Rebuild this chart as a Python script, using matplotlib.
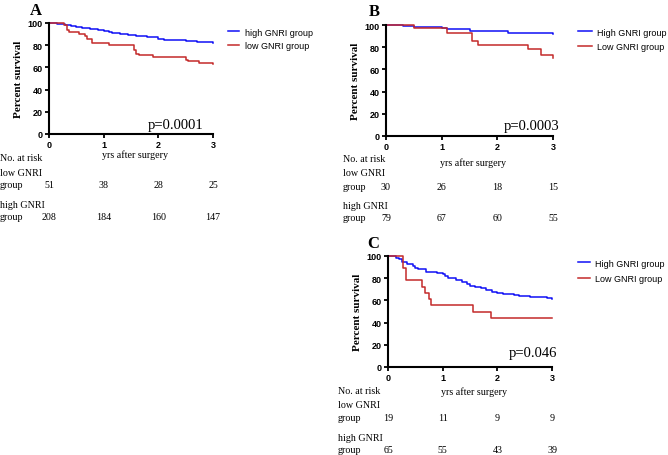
import matplotlib
matplotlib.use('Agg')
import matplotlib.pyplot as plt

W, H = 668, 456

# ---- Panel A
a_high_t = [0, 0.15, 0.25, 0.3, 0.4, 0.5, 0.6, 0.75, 0.9, 1.0, 1.1, 1.15, 1.3, 1.45, 1.6, 1.8, 2.0, 2.1, 2.3, 2.5, 2.7, 2.9, 3.0]
a_high_s = [100, 99.5, 99, 98, 97, 96, 95.5, 95, 94, 93, 92, 91, 90, 89, 88, 87, 86, 85, 84.5, 84, 83, 82.5, 82]
a_low_t = [0, 0.27, 0.33, 0.36, 0.55, 0.65, 0.7, 0.78, 1.1, 1.55, 1.6, 1.65, 1.9, 2.5, 2.55, 2.75, 3.0]
a_low_s = [100, 98, 94, 92, 90, 88, 86, 82, 80, 76, 72, 71, 69, 67, 66, 64, 63]
a_risk_low = [51, 38, 28, 25]
a_risk_high = [208, 184, 160, 147]

# ---- Panel B
b_high_t = [0, 0.3, 0.35, 0.5, 1.0, 1.1, 1.5, 2.0, 2.2, 2.4, 3.0]
b_high_s = [100, 99.5, 99, 98, 97, 96, 95, 94.5, 93, 92.5, 92]
b_low_t = [0, 0.5, 1.1, 1.55, 1.65, 2.55, 2.78, 3.0]
b_low_s = [100, 97, 93, 86, 82, 78, 73, 70]
b_risk_low = [30, 26, 18, 15]
b_risk_high = [79, 67, 60, 55]

# ---- Panel C
c_high_t = [0, 0.15, 0.2, 0.25, 0.35, 0.45, 0.5, 0.55, 0.7, 0.75, 0.9, 1.0, 1.05, 1.1, 1.25, 1.35, 1.45, 1.5, 1.6, 1.7, 1.8, 1.9, 2.0, 2.1, 2.3, 2.4, 2.6, 2.9, 3.0]
c_high_s = [100, 98, 97, 95, 93, 91, 89, 88, 86, 85.5, 85, 84, 82, 80, 78, 77, 75, 73, 72, 71, 69, 68, 67, 66, 65, 64, 63, 62, 61]
c_low_t = [0, 0.27, 0.33, 0.63, 0.67, 0.75, 0.78, 1.55, 1.88, 3.0]
c_low_s = [100, 89, 78, 72, 67, 61, 55.5, 50, 44.5, 44.5]
c_risk_low = [19, 11, 9, 9]
c_risk_high = [65, 55, 43, 39]

BLUE = '#1010F5'
RED = '#C42A2A'
SERIF = 'Liberation Serif'
SANS = 'Liberation Sans'

fig = plt.figure(figsize=(W / 100, H / 100), dpi=100)


def px(x, y):
    return x / W, 1 - y / H


def panel(left, right, top, bottom, letter, letter_xy, high, low, labels, leg, pval, p_xy,
          xlab_y, table_x, table_y0, risk_low, risk_high):
    x0, y0 = px(left, bottom)
    x1, y1 = px(right, top)
    ax = fig.add_axes([x0, y0, x1 - x0, y1 - y0])
    ax.step(high[0], high[1], where='post', color=BLUE, lw=1.1, clip_on=False, label=labels[0])
    ax.step(low[0], low[1], where='post', color=RED, lw=1.1, clip_on=False, label=labels[1])
    ax.set_xlim(0, 3)
    ax.set_ylim(0, 100)
    ax.set_xticks([0, 1, 2, 3])
    ax.set_yticks([0, 20, 40, 60, 80, 100])
    for s in ['top', 'right']:
        ax.spines[s].set_visible(False)
    for s in ['left', 'bottom']:
        ax.spines[s].set_linewidth(1.5)
    ax.tick_params(direction='out', length=3, width=1.3, pad=1.5, labelsize=6.5)
    for t in ax.get_xticklabels() + ax.get_yticklabels():
        t.set_fontfamily(SANS)
        t.set_fontweight('bold')
    ax.set_ylabel('Percent survival', fontfamily=SERIF, fontweight='bold', fontsize=8, labelpad=3)

    lx, ly = px(*leg[0])
    ax.legend(loc='center left', bbox_to_anchor=(lx, ly), bbox_transform=fig.transFigure,
              frameon=False, prop={'family': SANS, 'size': 6.5}, handlelength=leg[1],
              handletextpad=0.6, labelspacing=leg[2], borderaxespad=0, borderpad=0)

    fig.text(*px(*letter_xy), letter, fontfamily=SERIF, fontweight='bold', fontsize=12,
             ha='left', va='center')
    fig.text(*px(*p_xy), pval, fontfamily=SERIF, fontsize=10.5, ha='right', va='center')
    fig.text(*px((left + right) / 2 + 4, xlab_y), 'yrs after surgery', fontfamily=SERIF,
             fontsize=7.2, ha='center', va='center')

    ticks_px = [left + (right - left) * i / 3 for i in range(4)]
    rows = [('No. at risk', 0), ('low GNRI', 14), ('group', 27), ('high GNRI', 47), ('group', 59)]
    for txt, dy in rows:
        fig.text(*px(table_x, table_y0 + dy), txt, fontfamily=SERIF, fontsize=7.2,
                 ha='left', va='center')
    for xp, n1, n2 in zip(ticks_px, risk_low, risk_high):
        fig.text(*px(xp, table_y0 + 27), str(n1), fontfamily=SERIF, fontsize=7.2,
                 ha='center', va='center')
        fig.text(*px(xp, table_y0 + 59), str(n2), fontfamily=SERIF, fontsize=7.2,
                 ha='center', va='center')
    return ax


panel(49, 213, 24, 135, 'A', (30, 11), (a_high_t, a_high_s), (a_low_t, a_low_s),
      ['high GNRI group', 'low GNRI group'], ((228, 40), 1.25, 0.55), 'p=0.0001', (203, 125),
      155, 0, 159, a_risk_low, a_risk_high)
panel(386, 553, 26, 137, 'B', (369, 12), (b_high_t, b_high_s), (b_low_t, b_low_s),
      ['High GNRI group', 'Low GNRI group'], ((578, 40.5), 1.5, 0.65), 'p=0.0003', (559, 127),
      163, 343, 160, b_risk_low, b_risk_high)
panel(388, 552, 257, 368, 'C', (367, 244), (c_high_t, c_high_s), (c_low_t, c_low_s),
      ['High GNRI group', 'Low GNRI group'], ((578, 272), 1.3, 0.75), 'p=0.046', (557, 353),
      392, 338, 392, c_risk_low, c_risk_high)

fig.savefig('out.png', dpi=100)
